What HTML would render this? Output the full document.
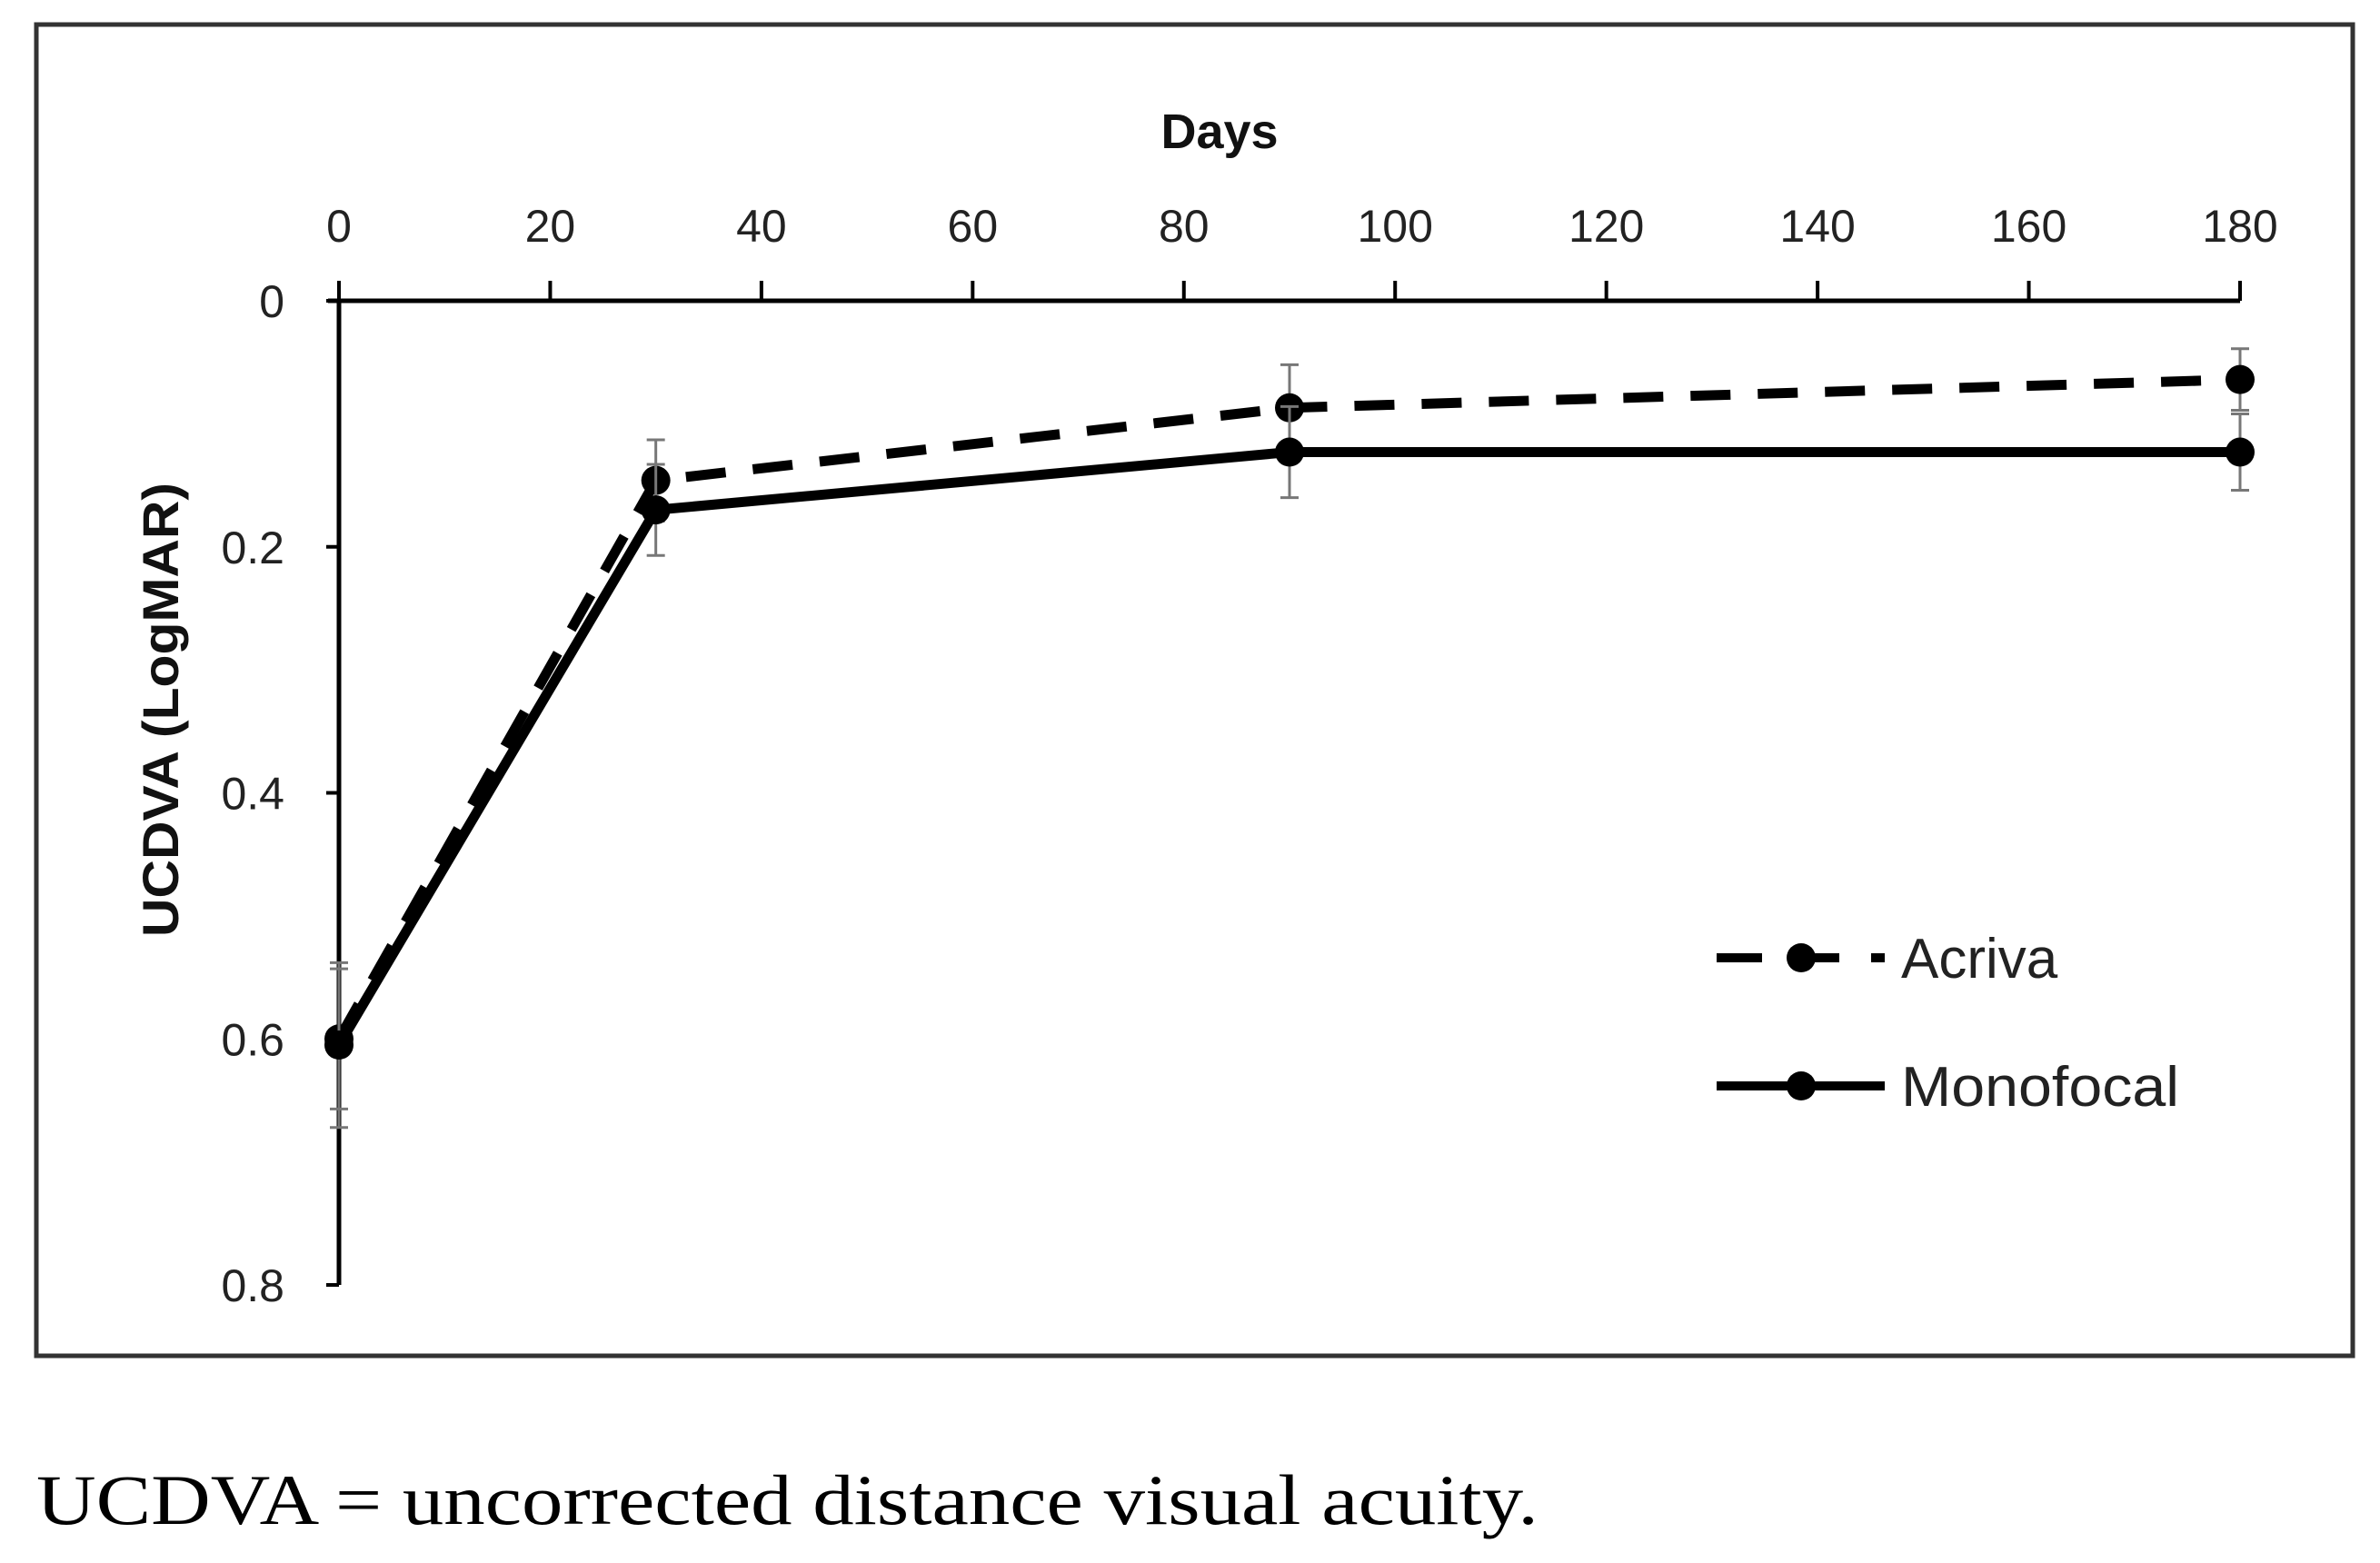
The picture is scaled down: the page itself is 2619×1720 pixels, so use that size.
<!DOCTYPE html>
<html><head><meta charset="utf-8"><style>
html,body{margin:0;padding:0;background:#fff;}
svg{display:block;}
</style></head><body>
<svg id="chart" width="2619" height="1720" viewBox="0 0 2619 1720" xmlns="http://www.w3.org/2000/svg">
<rect x="40" y="27" width="2549" height="1465" fill="none" stroke="#333" stroke-width="5"/>
<g id="axes"></g>
<g id="series"></g>
<text x="1342" y="163" font-family="'Liberation Sans',sans-serif" font-weight="bold" font-size="54" text-anchor="middle" fill="#111">Days</text>
<text transform="translate(196,781) rotate(-90)" font-family="'Liberation Sans',sans-serif" font-weight="bold" font-size="56" text-anchor="middle" fill="#111" textLength="500" lengthAdjust="spacingAndGlyphs">UCDVA (LogMAR)</text>
<g>
<g>
<line x1="1889" y1="1054" x2="2074" y2="1054" stroke="#000" stroke-width="10" stroke-dasharray="50,35"/>
<circle cx="1982" cy="1054" r="16" fill="#000"/>
<circle cx="2070" cy="1054" r="4" fill="#000"/>
<text x="2092" y="1076" font-family="'Liberation Sans',sans-serif" font-size="62" fill="#222">Acriva</text>
</g>
<g>
<line x1="1889" y1="1195" x2="2074" y2="1195" stroke="#000" stroke-width="10"/>
<circle cx="1982" cy="1195" r="16" fill="#000"/>
<text x="2092" y="1217" font-family="'Liberation Sans',sans-serif" font-size="62" fill="#222" textLength="306" lengthAdjust="spacingAndGlyphs">Monofocal</text>
</g>
</g>
<text x="40" y="1677" font-family="'Liberation Serif',serif" font-size="78" fill="#000" textLength="1653" lengthAdjust="spacingAndGlyphs">UCDVA = uncorrected distance visual acuity.</text>
</svg>
<script>
const xTicks = [0,20,40,60,80,100,120,140,160,180];
const yTicks = [0,0.2,0.4,0.6,0.8];
const yTickLabels = ["0","0.2","0.4","0.6","0.8"];
const days = [0,30,90,180];
const acriva = [0.600,0.146,0.087,0.064];
const acrivaErr = [0.057,0.033,0.035,0.025];
const mono = [0.605,0.170,0.123,0.123];
const monoErr = [0.067,0.037,0.037,0.031];

const X0=373, X1=2465, Y0=331, Y1=1414;
const xs = d => X0 + (d-0)/(180-0)*(X1-X0);
const ys = v => Y0 + v/0.8*(Y1-Y0);
const NS="http://www.w3.org/2000/svg";
function mk(tag, attrs, parent){const e=document.createElementNS(NS,tag);for(const k in attrs)e.setAttribute(k,attrs[k]);parent.appendChild(e);return e;}
const axes=document.getElementById('axes'), ser=document.getElementById('series');
const xa=mk('line',{x1:X0-12,y1:Y0,x2:X1,y2:Y0,stroke:'#000','stroke-width':5},axes);


const ya=mk('line',{x1:X0,y1:Y0,x2:X0,y2:Y1,stroke:'#000','stroke-width':5},axes);


xTicks.forEach(t=>{
  const x=xs(t);
  mk('line',{x1:x,y1:Y0-22,x2:x,y2:Y0,stroke:'#000','stroke-width':4},axes);
  const tx=mk('text',{x:x,y:266,'font-family':"'Liberation Sans',sans-serif",'font-size':50,'text-anchor':'middle',fill:'#222'},axes);
  tx.textContent=t;
  
  
});
yTicks.forEach((t,i)=>{
  const y=ys(t);
  mk('line',{x1:X0-14,y1:y,x2:X0,y2:y,stroke:'#000','stroke-width':4},axes);
  const tx=mk('text',{x:313,y:y+18,'font-family':"'Liberation Sans',sans-serif",'font-size':50,'text-anchor':'end',fill:'#222'},axes);
  tx.textContent=yTickLabels[i];
  
  
});
function drawSeries(vals, errs, dash, name){
  const g=mk('g',{},ser);
  
  
  vals.forEach((v,i)=>{
    const x=xs(days[i]);
    const eb=mk('g',{stroke:'#777','stroke-width':3},g);
    
    
    mk('line',{x1:x,y1:ys(v-errs[i]),x2:x,y2:ys(v+errs[i])},eb);
    mk('line',{x1:x-10,y1:ys(v-errs[i]),x2:x+10,y2:ys(v-errs[i])},eb);
    mk('line',{x1:x-10,y1:ys(v+errs[i]),x2:x+10,y2:ys(v+errs[i])},eb);
  });
  const pts=vals.map((v,i)=>xs(days[i])+','+ys(v)).join(' ');
  const pl=mk('polyline',{points:pts,fill:'none',stroke:'#000','stroke-width':11,'stroke-dasharray':dash?'44,30':'none'},g);
  
  
  vals.forEach((v,i)=>{
    const c=mk('circle',{cx:xs(days[i]),cy:ys(v),r:16,fill:'#000'},g);
    
    
  });
}
drawSeries(acriva, acrivaErr, true, 'acriva');
drawSeries(mono, monoErr, false, 'monofocal');
</script>
</body></html>
